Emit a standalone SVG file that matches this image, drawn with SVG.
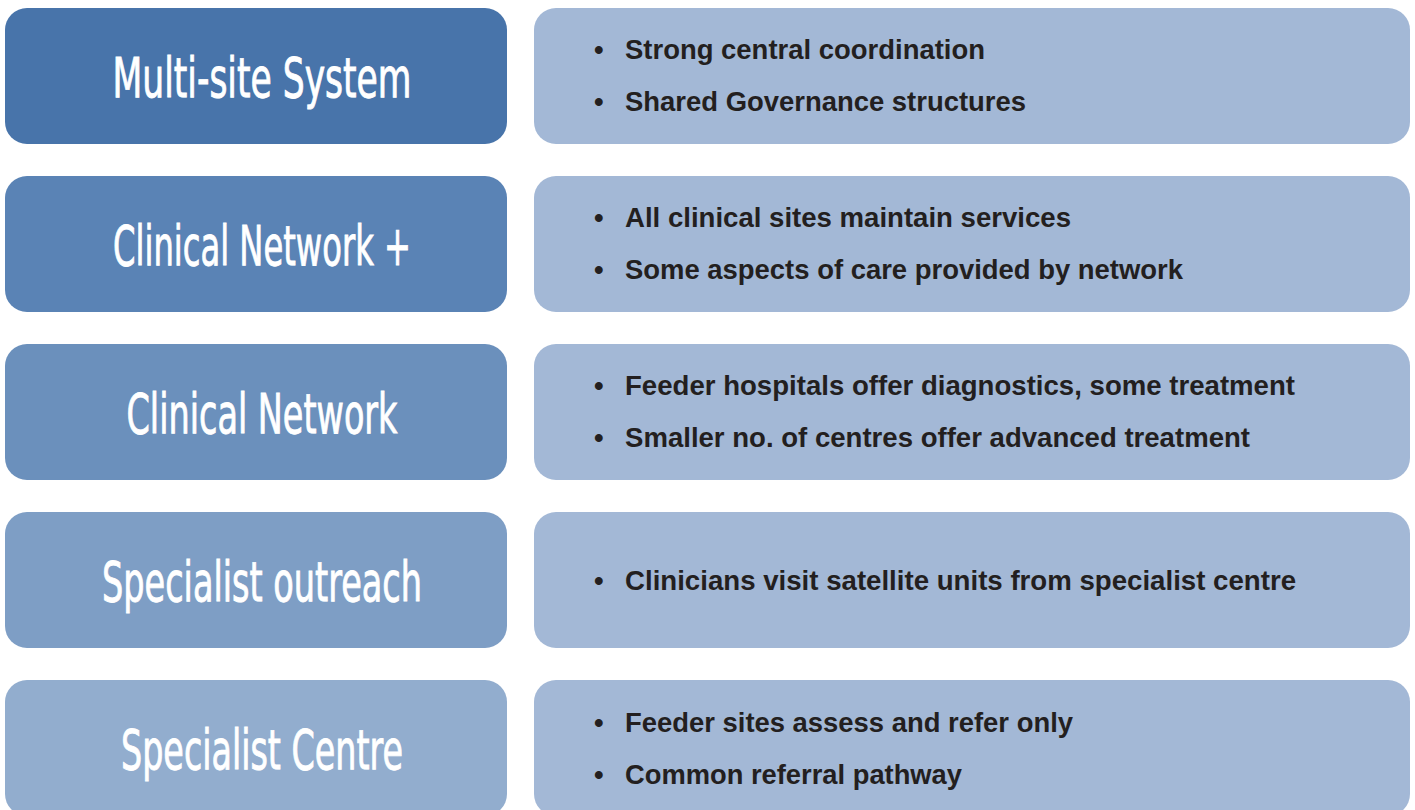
<svg xmlns="http://www.w3.org/2000/svg" width="1415" height="810" viewBox="0 0 1415 810">
<style>
.lt{font-family:"Liberation Sans Narrow","DejaVu Sans Condensed","Liberation Sans",sans-serif;font-stretch:condensed;font-size:56px;fill:#ffffff;stroke:#ffffff;stroke-width:0.9px;text-anchor:middle}
.rt{font-family:"Liberation Sans",Arial,sans-serif;font-weight:bold;font-size:27.5px;fill:#231f20}
.rb{fill:#a3b8d6}
</style>
<rect width="1415" height="810" fill="#ffffff"/>
<g id="row1">
<rect x="5" y="8" width="502" height="136" rx="22" fill="#4874aa"/>
<text class="lt" x="262" y="97" textLength="299" lengthAdjust="spacingAndGlyphs">Multi-site System</text>
<rect class="rb" x="534" y="8" width="876" height="136" rx="22"/>
<text class="rt" x="594" y="59">•</text><text class="rt" x="625" y="59" textLength="360" lengthAdjust="spacingAndGlyphs">Strong central coordination</text>
<text class="rt" x="594" y="111">•</text><text class="rt" x="625" y="111" textLength="401" lengthAdjust="spacingAndGlyphs">Shared Governance structures</text>
</g>
<g id="row2">
<rect x="5" y="176" width="502" height="136" rx="22" fill="#5a83b5"/>
<text class="lt" x="262" y="265" textLength="298" lengthAdjust="spacingAndGlyphs">Clinical Network +</text>
<rect class="rb" x="534" y="176" width="876" height="136" rx="22"/>
<text class="rt" x="594" y="227">•</text><text class="rt" x="625" y="227" textLength="446" lengthAdjust="spacingAndGlyphs">All clinical sites maintain services</text>
<text class="rt" x="594" y="279">•</text><text class="rt" x="625" y="279" textLength="558" lengthAdjust="spacingAndGlyphs">Some aspects of care provided by network</text>
</g>
<g id="row3">
<rect x="5" y="344" width="502" height="136" rx="22" fill="#6b90bc"/>
<text class="lt" x="262" y="433" textLength="271" lengthAdjust="spacingAndGlyphs">Clinical Network</text>
<rect class="rb" x="534" y="344" width="876" height="136" rx="22"/>
<text class="rt" x="594" y="395">•</text><text class="rt" x="625" y="395" textLength="670" lengthAdjust="spacingAndGlyphs">Feeder hospitals offer diagnostics, some treatment</text>
<text class="rt" x="594" y="447">•</text><text class="rt" x="625" y="447" textLength="625" lengthAdjust="spacingAndGlyphs">Smaller no. of centres offer advanced treatment</text>
</g>
<g id="row4">
<rect x="5" y="512" width="502" height="136" rx="22" fill="#7e9ec5"/>
<text class="lt" x="262" y="601" textLength="320" lengthAdjust="spacingAndGlyphs">Specialist outreach</text>
<rect class="rb" x="534" y="512" width="876" height="136" rx="22"/>
<text class="rt" x="594" y="590">•</text><text class="rt" x="625" y="590" textLength="671" lengthAdjust="spacingAndGlyphs">Clinicians visit satellite units from specialist centre</text>
</g>
<g id="row5">
<rect x="5" y="680" width="502" height="136" rx="22" fill="#92adce"/>
<text class="lt" x="262" y="769" textLength="282" lengthAdjust="spacingAndGlyphs">Specialist Centre</text>
<rect class="rb" x="534" y="680" width="876" height="136" rx="22"/>
<text class="rt" x="594" y="732">•</text><text class="rt" x="625" y="732" textLength="448" lengthAdjust="spacingAndGlyphs">Feeder sites assess and refer only</text>
<text class="rt" x="594" y="784">•</text><text class="rt" x="625" y="784" textLength="337" lengthAdjust="spacingAndGlyphs">Common referral pathway</text>
</g>
<g id="connectors"/>
</svg>
